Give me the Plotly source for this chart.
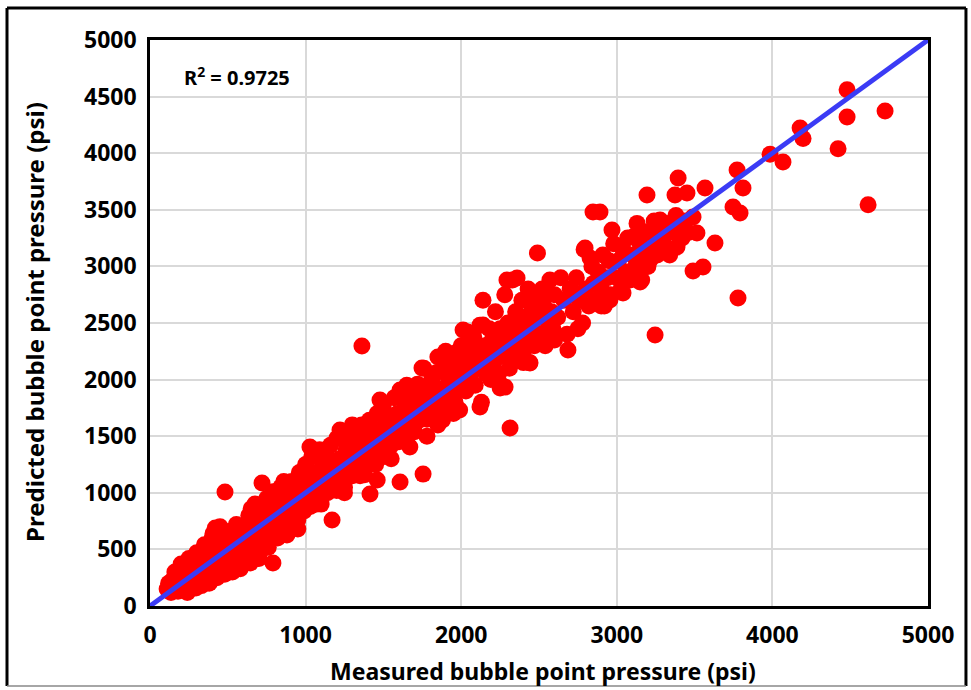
import plotly.graph_objects as go

# ---- data: (measured psi, predicted psi) ----
band_low = [
    (110,150),(120,200),(135,120),(145,230),(160,170),(170,260),(180,130),(190,210),(200,300),(210,160),
    (225,240),(235,330),(245,190),(255,280),(265,380),(275,220),(285,320),(295,160),(305,420),(315,270),
    (325,350),(335,230),(345,460),(355,310),(365,390),(375,250),(385,520),(395,340),(405,640),(410,430),
    (420,290),(430,560),(440,380),(450,700),(455,470),(465,320),(475,610),(485,420),(495,530),(505,350),
    (515,660),(525,480),(535,400),(545,580),(555,720),(565,450),(575,350),(585,620),(595,520),
    (200,370),(250,420),(300,470),(350,540),(400,600),(420,690),(380,200),(430,250),(480,280),(530,300),
    (580,330),(610,380),(160,300),(240,120),(330,180),
]
band_mid1 = [
    (605,700),(615,450),(625,580),(635,800),(645,380),(655,650),(665,520),(675,900),(685,720),(695,600),
    (705,470),(715,820),(730,680),(740,560),(750,950),(760,760),(770,640),(780,880),(790,1010),(800,700),
    (810,820),(820,600),(830,960),(840,1050),(850,760),(860,880),(870,660),(880,1000),(890,800),(900,940),
    (910,1100),(920,700),(930,860),(940,1020),(950,760),(960,1180),(970,900),(980,1040),(990,840),(1000,1250),
    (1010,960),(1020,1100),(1030,880),(1040,1320),(1050,1000),(1060,1180),(1070,900),(1080,1080),(1090,1380),
    (1100,960),(1110,1240),(1120,1060),(1130,1160),(1140,1000),(1150,1300),(1160,1420),(1170,1100),(1180,1200),
    (1190,1050),(1028,1405),(1100,900),(1200,1020),(650,860),(700,420),(760,520),(860,1100),(950,680),
]
band_mid2 = [
    (1200,1480),(1210,1100),(1220,1300),(1230,1200),(1240,1520),(1250,1050),(1260,1380),(1270,1260),(1280,1550),
    (1290,1150),(1300,1420),(1310,1300),(1320,1200),(1330,1480),(1340,1360),(1350,1250),(1360,1600),(1370,1420),
    (1380,1160),(1390,1500),(1400,1340),(1410,1640),(1420,1260),(1430,1450),(1440,1560),(1450,1380),(1460,1700),
    (1470,1300),(1480,1520),(1490,1420),(1500,1780),(1510,1600),(1520,1350),(1530,1500),(1540,1680),(1550,1420),
    (1560,1600),(1570,1840),(1580,1520),(1590,1700),(1600,1450),(1610,1620),(1620,1880),(1630,1560),(1640,1760),
    (1650,1480),(1660,1680),(1670,1900),(1680,1600),(1690,1800),(1700,1540),(1710,1720),(1720,1960),(1730,1640),
    (1740,1860),(1750,1700),(1760,2100),(1770,1780),(1780,1650),(1790,1900),(1800,1740),(1810,2000),(1820,1680),
    (1830,1840),(1840,2060),(1850,1760),(1860,1920),(1870,1650),(1880,1820),(1890,2100),(1900,1880),(1910,1740),
    (1920,2000),(1930,1860),(1940,2200),(1950,1950),(1960,1800),(1970,2080),(1980,2250),(1990,1920),
    (1460,1113),(1670,1405),(1880,1643),(1990,1731),(1550,1300),(1780,1500),(1300,1150),(1250,1000),(1350,1150),
    (1450,1250),(1650,1450),(1850,1600),(1950,1700),(1748,2102),(1607,1908),(1478,1820),(1221,1555),(1300,1600),
    (1650,1950),(1850,2200),(1900,2250),
]
band_high1 = [
    (2000,2300),(2010,2050),(2020,2180),(2030,1900),(2040,2420),(2050,2120),(2060,2000),(2070,2260),(2080,2380),
    (2090,1950),(2100,2200),(2110,2100),(2120,2480),(2130,1800),(2140,2700),(2150,2300),(2160,2050),(2170,2200),
    (2180,2450),(2190,2000),(2200,2350),(2210,2150),(2220,2600),(2230,2250),(2240,2050),(2250,2450),(2260,1950),
    (2270,2350),(2280,2750),(2290,2200),(2300,2500),(2310,2100),(2320,2400),(2330,2880),(2340,2300),(2350,2600),
    (2360,2200),(2370,2480),(2380,2350),(2390,2700),(2400,2250),(2410,2550),(2420,2400),(2430,2800),(2440,2150),
    (2450,2600),(2460,2450),(2470,2300),(2480,2700),(2500,2550),(2510,2400),(2520,2800),(2530,2650),(2540,2300),
    (2550,2750),(2560,2500),(2570,2880),(2580,2600),(2590,2450),(2600,2750),(2620,2550),(2640,2900),(2660,2700),
    (2680,2400),(2700,2800),(2720,2600),(2740,2900),(2760,2700),(2780,2500),(2800,2800),
    (2012,2438),(2140,2482),(2294,2880),(2359,2897),(2400,2150),(2600,2350),(2750,2450),(2571,2438),
]
band_high2 = [
    (2820,2650),(2840,3000),(2850,2850),(2860,2700),(2880,2950),(2900,2800),(2910,3100),(2920,2650),(2940,2900),
    (2950,3050),(2960,2750),(2980,3200),(3000,2900),(3010,3050),(3020,2780),(3040,3150),(3060,2950),(3070,3250),
    (3080,2880),(3100,3100),(3120,3000),(3130,3380),(3150,3200),(3160,2880),(3170,3100),(3190,3300),(3200,3000),
    (3220,3150),(3240,3400),(3250,3250),(3260,3100),(3280,3300),(3300,3200),(3320,3380),(3340,3100),(3360,3300),
    (3380,3450),(3400,3350),(3420,3250),(3440,3400),(3460,3300),
    (3104,3260),(3150,3322),(3278,3410),(3426,3348),(3490,3437),(3515,3295),(3387,3171),(3214,3057),(3066,2942),
    (3150,2862),(3040,2765),(2956,2703),(2900,2650),(2937,2703),(3085,2880),
]
outliers = [
    (482,1007),(720,1087),(790,380),(880,627),(1170,760),(1362,2297),(1414,990),(1607,1095),(1755,1165),
    (2121,1758),(2250,1926),(2282,1935),(2314,1572),(2442,2147),(2686,2261),(2490,3118),(2796,3163),(2828,3074),
    (2790,3150),(2847,3481),(2892,3481),(2969,3322),(3194,3631),(3246,2394),(3374,3631),(3394,3781),(3451,3648),
    (3490,2960),(3554,2995),(3567,3693),(3631,3207),(3747,3525),(3779,2721),(3792,3472),(3773,3852),(3811,3693),
    (3985,3990),(4068,3922),(4178,4223),(4197,4130),(4422,4040),(4480,4560),(4480,4320),(4724,4373),(4615,3545),
]

groups = [band_low, band_mid1, band_mid2, band_high1, band_high2, outliers]
measured = [p[0] for g in groups for p in g]
predicted = [p[1] for g in groups for p in g]

line_x = [0, 5000]
line_y = [0, 5000]
r2_text = "R<sup>2</sup> = 0.9725"

FONT = "Noto Sans"

fig = go.Figure()
fig.add_trace(go.Scatter(
    x=measured, y=predicted, mode="markers",
    marker=dict(size=17, color="#ff0000", line=dict(width=0)),
    showlegend=False, hoverinfo="skip",
))
fig.add_trace(go.Scatter(
    x=line_x, y=line_y, mode="lines",
    line=dict(color="#3b3bf5", width=5),
    showlegend=False, hoverinfo="skip",
))

axis_common = dict(
    range=[0, 5000], showline=True, linecolor="black", linewidth=2.5, mirror=True,
    showgrid=True, gridcolor="#d9d9d9", gridwidth=1.5, zeroline=False, ticks="",
    tickfont=dict(family=FONT, size=23, color="black", weight="bold"),
)
fig.update_xaxes(dtick=1000, tick0=0, ticklabelstandoff=7, **axis_common)
fig.update_yaxes(dtick=500, tick0=0, ticklabelstandoff=6, **axis_common)

fig.update_layout(
    width=971, height=690,
    margin=dict(l=150, r=43, t=40, b=84),
    plot_bgcolor="white", paper_bgcolor="white",
    font=dict(family=FONT, color="black"),
    annotations=[
        dict(x=560, y=4682, xref="x", yref="y", text=r2_text, showarrow=False,
             font=dict(family=FONT, size=20, weight="bold", color="black")),
        dict(x=0.505, y=-0.1148, xref="paper", yref="paper", text="Measured bubble point pressure (psi)",
             showarrow=False, xanchor="center", yanchor="middle",
             font=dict(family=FONT, size=23, weight="bold", color="black")),
        dict(x=-0.1478, y=0.502, xref="paper", yref="paper", text="Predicted bubble point pressure (psi)",
             showarrow=False, textangle=-90, xanchor="center", yanchor="middle",
             font=dict(family=FONT, size=24, weight="bold", color="black")),
    ],
    shapes=[
        dict(type="line", xref="paper", yref="paper", x0=-0.1838, x1=1.0488, y0=1.0565, y1=1.0565,
             line=dict(color="black", width=3)),
        dict(type="line", xref="paper", yref="paper", x0=-0.1838, x1=-0.1838, y0=-0.1413, y1=1.0565,
             line=dict(color="black", width=3)),
        dict(type="line", xref="paper", yref="paper", x0=1.0488, x1=1.0488, y0=-0.1413, y1=1.0565,
             line=dict(color="black", width=3)),
        dict(type="line", xref="paper", yref="paper", x0=-0.1838, x1=1.0488, y0=-0.1413, y1=-0.1413,
             line=dict(color="#888888", width=1.5)),
    ],
)

fig.write_html("out.html", config={"displayModeBar": False},
               post_script="document.body.style.margin='0';")
